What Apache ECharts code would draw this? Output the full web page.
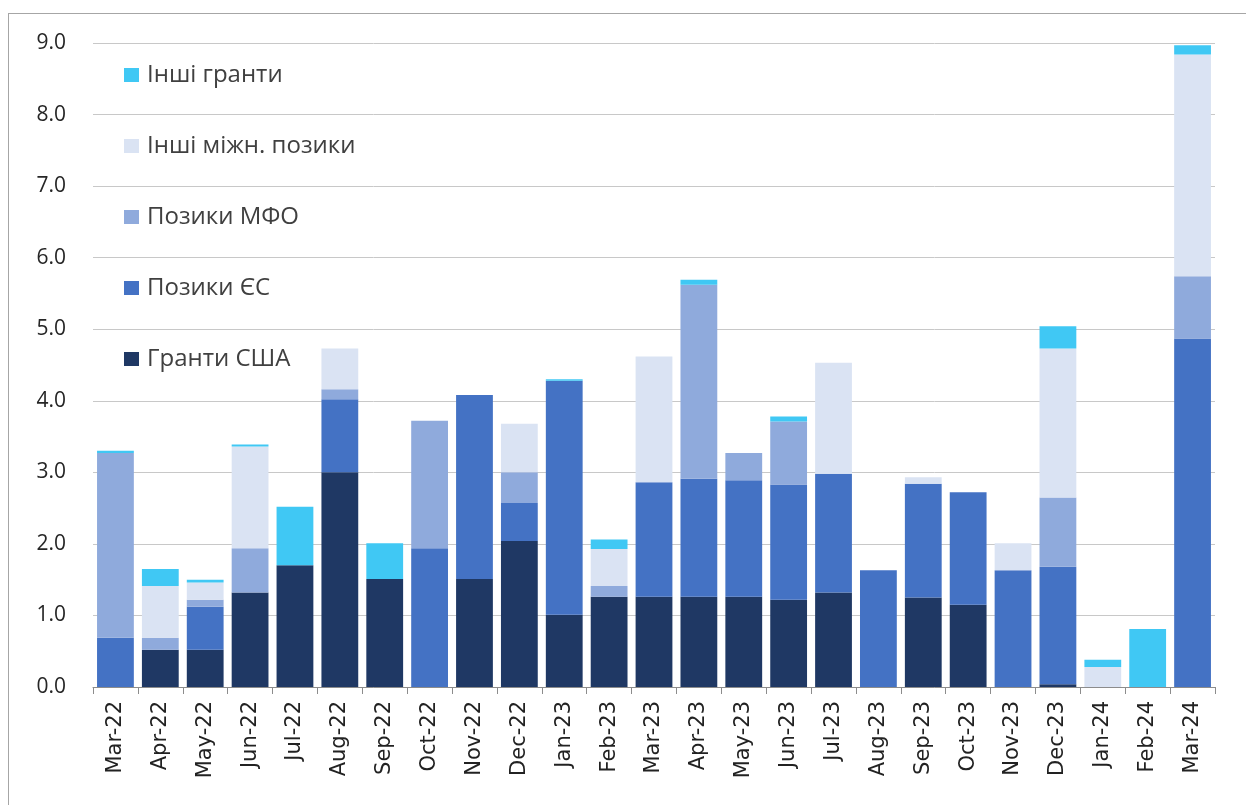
<!DOCTYPE html>
<html><head><meta charset="utf-8">
<script src="https://cdn.jsdelivr.net/npm/echarts@6/dist/echarts.min.js"></script>
<style>html,body{margin:0;padding:0;background:#fff;overflow:hidden}#c{width:1246px;height:805px}
#frame{position:absolute;left:8px;top:13px;width:1400px;height:1000px;border:1px solid #a6a6a6;box-sizing:border-box;pointer-events:none}</style>
</head><body><div id="c"></div><div id="frame"></div>
<script>
const categories = ["Mar-22","Apr-22","May-22","Jun-22","Jul-22","Aug-22","Sep-22","Oct-22","Nov-22","Dec-22","Jan-23","Feb-23","Mar-23","Apr-23","May-23","Jun-23","Jul-23","Aug-23","Sep-23","Oct-23","Nov-23","Dec-23","Jan-24","Feb-24","Mar-24"];
const usGrants    = [0,0.52,0.52,1.32,1.70,3.00,1.51,0,1.51,2.04,1.01,1.26,1.26,1.26,1.26,1.22,1.32,0,1.25,1.15,0,0.04,0,0,0];
const euLoans     = [0.69,0,0.60,0,0,1.02,0,1.94,2.57,0.53,3.27,0,1.60,1.65,1.63,1.61,1.66,1.63,1.59,1.57,1.63,1.64,0,0,4.87];
const ifiLoans    = [2.58,0.17,0.10,0.62,0,0.14,0,1.78,0,0.43,0,0.15,0,2.71,0.38,0.88,0,0,0,0,0,0.97,0,0,0.87];
const otherLoans  = [0,0.72,0.24,1.42,0,0.57,0,0,0,0.68,0,0.52,1.76,0,0,0,1.55,0,0.09,0,0.38,2.08,0.28,0,3.10];
const otherGrants = [0.03,0.24,0.04,0.03,0.82,0,0.50,0,0,0,0.02,0.13,0,0.07,0,0.07,0,0,0,0,0,0.31,0.10,0.81,0.13];
const yTicks = [0,1,2,3,4,5,6,7,8,9];
const names = ["Гранти США","Позики ЄС","Позики МФО","Інші міжн. позики","Інші гранти"];
const colors = ["#1f3864","#4472c4","#8faadc","#dae3f3","#40c8f4"];
const data = [usGrants, euLoans, ifiLoans, otherLoans, otherGrants];

const chart = echarts.init(document.getElementById('c'));
chart.setOption({
  animation:false,
  grid:{left:93,right:31,top:43,bottom:118},
  legend:{
    orient:'vertical', left:124, top:63, padding:0, itemGap:47, itemWidth:15, itemHeight:14,
    icon:'rect', data:[...names].reverse(),
    textStyle:{fontFamily:'Open Sans',fontSize:24,lineHeight:24,color:'#404040',padding:[0,0,0,3]}
  },
  xAxis:{
    type:'category', data:categories,
    axisLine:{lineStyle:{color:'#8c8c8c'}},
    axisTick:{show:true,length:7,lineStyle:{color:'#8c8c8c'}},
    axisLabel:{rotate:90,fontFamily:'DejaVu Sans',fontSize:21,color:'#222',margin:14}
  },
  yAxis:{
    type:'value', min:0, max:9, interval:1,
    axisLine:{show:false}, axisTick:{show:false},
    splitLine:{lineStyle:{color:'#c8c8c8',width:1}},
    axisLabel:{formatter:v=>v.toFixed(1),fontFamily:'Open Sans',fontSize:21,color:'#262626',margin:27}
  },
  series: names.map((n,i)=>({
    name:n, type:'bar', stack:'total', data:data[i],
    barCategoryGap:'18%', itemStyle:{color:colors[i]}
  }))
});
</script></body></html>
